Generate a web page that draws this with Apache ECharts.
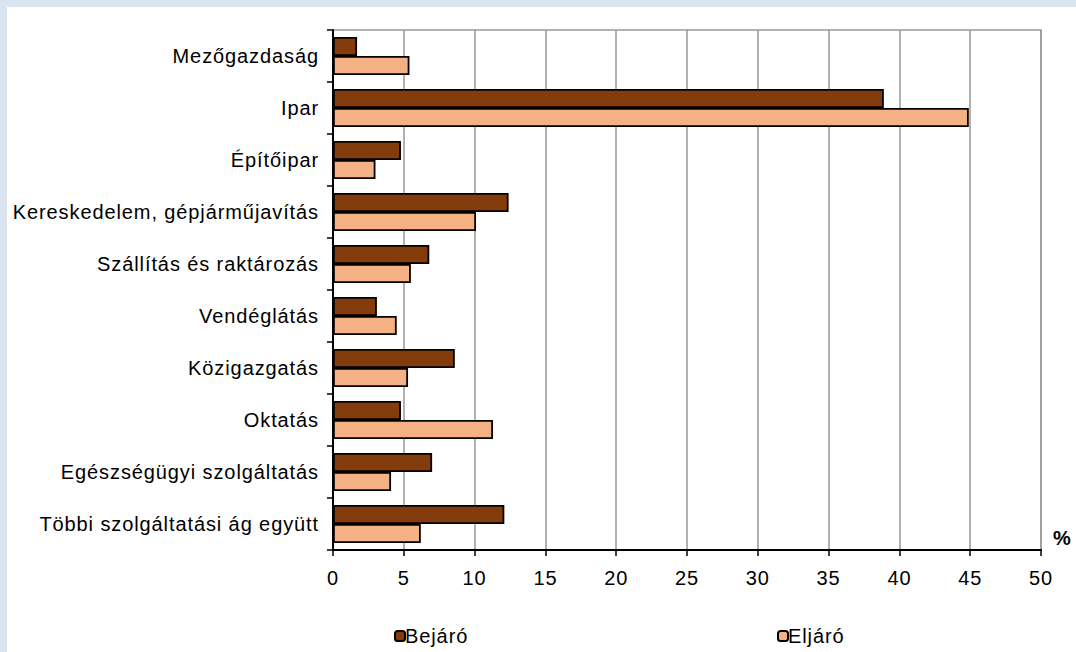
<!DOCTYPE html>
<html>
<head>
<meta charset="utf-8">
<script src="https://cdn.jsdelivr.net/npm/echarts@6/dist/echarts.min.js"></script>
<style>
  html, body { margin: 0; padding: 0; width: 1076px; height: 652px; overflow: hidden; background: #dbe5f1; }
  #chart { position: absolute; left: 7px; top: 7px; width: 1069px; height: 645px; background: #ffffff; }
  #chart text { letter-spacing: 0.9px; }
</style>
</head>
<body>
<div id="chart"></div>
<script>
const categories = ['Mezőgazdaság', 'Ipar', 'Építőipar', 'Kereskedelem, gépjárműjavítás', 'Szállítás és raktározás', 'Vendéglátás', 'Közigazgatás', 'Oktatás', 'Egészségügyi szolgáltatás', 'Többi szolgáltatási ág együtt'];
const bejaro = [1.7, 38.9, 4.8, 12.4, 6.8, 3.1, 8.6, 4.8, 7.0, 12.1];
const eljaro = [5.4, 44.9, 3.0, 10.1, 5.5, 4.5, 5.3, 11.3, 4.1, 6.2];
const seriesNames = ['Bejáró', 'Eljáró'];

const FONT = '"Liberation Sans", Arial, sans-serif';
const chart = echarts.init(document.getElementById('chart'), null, { renderer: 'svg' });
chart.setOption({
  animation: false,
  textStyle: { fontFamily: FONT },
  grid: { left: 326, right: 35, top: 23, bottom: 102, show: true, borderColor: '#999999', borderWidth: 1.5, backgroundColor: 'transparent' },
  legend: [
    { data: [seriesNames[0]], left: 387, top: 619, padding: 0, itemWidth: 10, itemHeight: 10, itemGap: 0,
      textStyle: { fontSize: 20, color: '#000', fontFamily: FONT, padding: [0, 0, 0, -5] } },
    { data: [seriesNames[1]], left: 770, top: 619, padding: 0, itemWidth: 10, itemHeight: 10, itemGap: 0,
      textStyle: { fontSize: 20, color: '#000', fontFamily: FONT, padding: [0, 0, 0, -5] } }
  ],
  xAxis: {
    type: 'value', min: 0, max: 50, interval: 5,
    name: '%', nameLocation: 'end', nameGap: 12,
    nameTextStyle: { fontWeight: 'bold', fontSize: 20, color: '#000', fontFamily: FONT, verticalAlign: 'bottom', padding: [0, 0, 2, 0] },
    axisLine: { show: true, lineStyle: { color: '#000', width: 2 } },
    axisTick: { show: true, length: 6, lineStyle: { color: '#000', width: 1.5 } },
    axisLabel: { fontSize: 20, color: '#000', margin: 18, fontFamily: FONT },
    splitLine: { show: true, lineStyle: { color: '#999999', width: 1.5 } }
  },
  yAxis: {
    type: 'category', data: categories, inverse: true,
    axisLine: { show: true, lineStyle: { color: '#000', width: 2 } },
    axisTick: { show: true, length: 6, lineStyle: { color: '#000', width: 1.5 } },
    axisLabel: { fontSize: 20, color: '#000', margin: 14, fontFamily: FONT },
    splitLine: { show: false }
  },
  series: [
    { name: seriesNames[0], type: 'bar', data: bejaro, barWidth: 19, barGap: '0%',
      itemStyle: { color: '#843c0c', borderColor: '#000', borderWidth: 1.8 } },
    { name: seriesNames[1], type: 'bar', data: eljaro, barWidth: 19, barGap: '0%',
      itemStyle: { color: '#f4b183', borderColor: '#000', borderWidth: 1.8 } }
  ]
});
</script>
</body>
</html>
